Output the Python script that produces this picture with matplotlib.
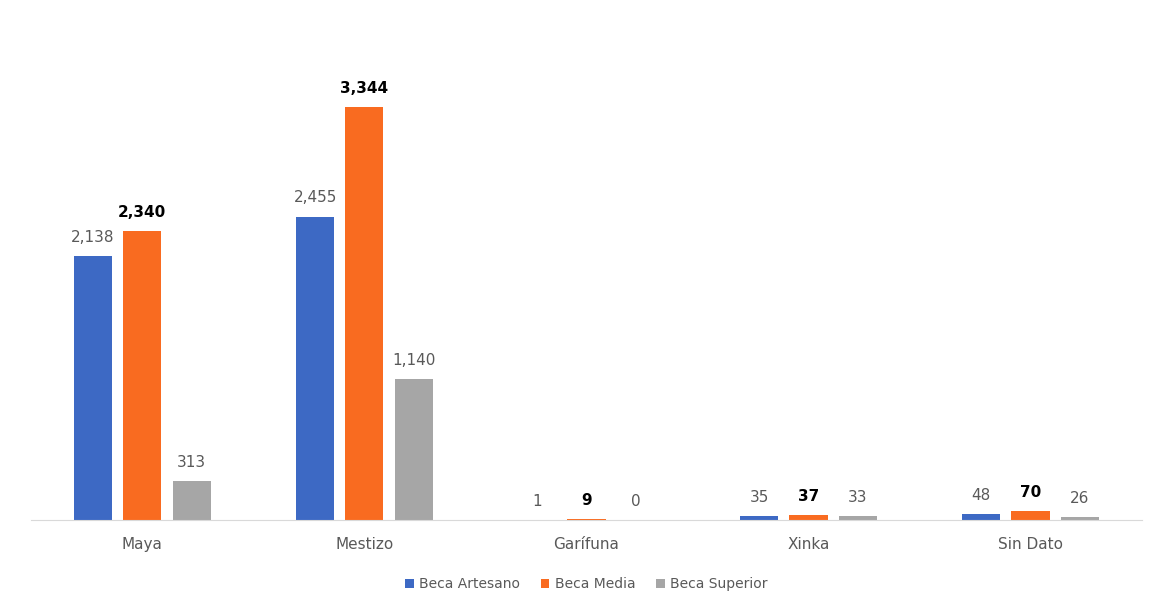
import numpy as np
import matplotlib.pyplot as plt

categories = ['Maya', 'Mestizo', 'Garífuna', 'Xinka', 'Sin Dato']
beca_artesano = [2138, 2455, 1, 35, 48]
beca_media = [2340, 3344, 9, 37, 70]
beca_superior = [313, 1140, 0, 33, 26]

series = [
    ('Beca Artesano', beca_artesano, '#3D69C4'),
    ('Beca Media', beca_media, '#F96B20'),
    ('Beca Superior', beca_superior, '#A6A6A6'),
]

fig = plt.figure(figsize=(11.59, 6.06), dpi=100)
ax = fig.add_axes([0.027, 0.142, 0.958, 0.775])

x = np.arange(len(categories))
width = 0.172
pitch = 0.222

for i, (name, vals, color) in enumerate(series):
    pos = x + (i - 1) * pitch
    bars = ax.bar(pos, vals, width, color=color, label=name)
    for b, v in zip(bars, vals):
        bold = name == 'Beca Media'
        ax.annotate(f'{v:,}', (b.get_x() + b.get_width() / 2, b.get_height()),
                    xytext=(0, 8), textcoords='offset points',
                    ha='center', va='bottom', fontsize=11,
                    color='black' if bold else '#595959',
                    fontweight='bold' if bold else 'normal')

ax.set_xlim(-0.5, len(categories) - 0.5)
ax.set_ylim(0, 3800)
ax.set_yticks([])
ax.set_xticks(x)
ax.set_xticklabels(categories, fontsize=11, color='#595959')
ax.tick_params(axis='x', length=0, pad=12)
for s in ['top', 'right', 'left']:
    ax.spines[s].set_visible(False)
ax.spines['bottom'].set_color('#D9D9D9')

ax.legend(loc='upper center', bbox_to_anchor=(0.5, -0.095), ncol=3, frameon=False,
          fontsize=10, labelcolor='#595959', handlelength=0.6, handleheight=0.6,
          handletextpad=0.4, columnspacing=1.5)

fig.savefig('out.png', dpi=100, facecolor='white')
